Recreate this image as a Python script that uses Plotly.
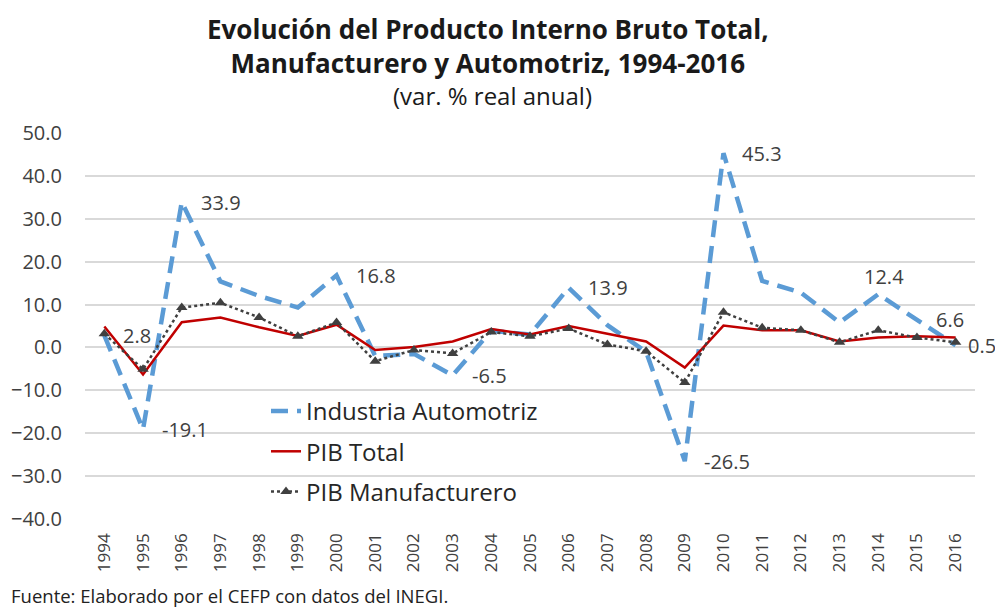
import plotly.graph_objects as go

years = [str(y) for y in range(1994, 2017)]
automotriz = [2.8, -19.1, 33.9, 15.4, 12.0, 9.3, 16.8, -2.0, -1.5, -6.5, 3.9, 3.0,
              13.9, 5.2, -1.0, -26.5, 45.3, 15.5, 12.8, 5.8, 12.4, 6.6, 0.5]
pib_total = [4.9, -6.3, 5.9, 7.0, 4.7, 2.7, 5.3, -0.6, 0.1, 1.4, 4.3, 3.0,
             5.0, 3.2, 1.4, -4.7, 5.1, 4.0, 4.0, 1.4, 2.3, 2.6, 2.3]
pib_manuf = [3.2, -5.1, 9.3, 10.4, 7.0, 2.6, 5.8, -3.2, -0.6, -1.4, 3.6, 2.6,
             4.4, 0.7, -0.9, -8.2, 8.2, 4.6, 4.0, 1.2, 4.0, 2.3, 1.2]
labeled_years = ["1994", "1995", "1996", "2000", "2003", "2006", "2009", "2010", "2014", "2015", "2016"]
y_ticks = [50, 40, 30, 20, 10, 0, -10, -20, -30, -40]

# page has an 8px body margin: figure pixel = screen pixel - 8
OFF = 8
W, H = 1003 - OFF, 614 - OFF
L, R, T, B = 85 - OFF, 28, 133 - OFF, 95


def px_x(p):
    return (p - OFF - L) / (W - L - R)


def px_y(p):
    return (H - B - (p - OFF)) / (H - T - B)


fig = go.Figure()
fig.add_trace(go.Scatter(x=years, y=automotriz, mode="lines", name="Industria Automotriz",
                         legendgroup="a",
                         line=dict(color="#5B9BD5", width=4.5, dash="17px,9px")))
fig.add_trace(go.Scatter(x=years, y=pib_total, mode="lines", name="PIB Total",
                         legendgroup="b",
                         line=dict(color="#C00000", width=2.5)))
fig.add_trace(go.Scatter(x=years, y=pib_manuf, mode="lines+markers", name="PIB Manufacturero",
                         legendgroup="c",
                         line=dict(color="#404040", width=2.5, dash="dot"),
                         marker=dict(symbol="triangle-up", size=10, color="#404040")))

annotations = []
for yr in labeled_years:
    i = years.index(yr)
    v = automotriz[i]
    if yr == "2014":
        annotations.append(dict(x=i, y=v, xref="x", yref="y", text=f"{v:.1f}", showarrow=False,
                                xanchor="center", yanchor="bottom", xshift=6, yshift=2,
                                font=dict(family="Open Sans", size=20, color="#404040")))
    else:
        xs = 10 if yr == "2016" else 17
        annotations.append(dict(x=i, y=v, xref="x", yref="y", text=f"{v:.1f}", showarrow=False,
                                xanchor="left", yanchor="middle", xshift=xs, yshift=0,
                                font=dict(family="Open Sans", size=20, color="#404040")))

annotations += [
    dict(text="<b>Evolución del Producto Interno Bruto Total,<br>Manufacturero y Automotriz, 1994-2016</b>",
         x=px_x(488), y=px_y(9),
         xref="paper", yref="paper", showarrow=False, xanchor="center", yanchor="top",
         align="center",
         font=dict(family="Open Sans", size=26, color="#1a1a1a")),
    dict(text="(var. % real anual)", x=px_x(492), y=px_y(95),
         xref="paper", yref="paper", showarrow=False, xanchor="center", yanchor="middle",
         font=dict(family="Open Sans", size=24, color="#1a1a1a")),
    dict(text="Fuente: Elaborado por el CEFP con datos del INEGI.", x=px_x(9), y=px_y(610),
         xref="paper", yref="paper", showarrow=False, xanchor="left", yanchor="bottom",
         font=dict(family="Open Sans", size=18.5, color="#222222")),
]

fig.update_layout(
    width=W, height=H,
    margin=dict(l=L, r=R, t=T, b=B, autoexpand=False),
    paper_bgcolor="white", plot_bgcolor="white",
    showlegend=True,
    legend=dict(x=px_x(266), y=px_y(389), xanchor="left", yanchor="top",
                bgcolor="rgba(0,0,0,0)", tracegroupgap=6,
                font=dict(family="Open Sans", size=24, color="#262626")),
    annotations=annotations,
    xaxis=dict(type="category", range=[-0.5, 22.5], tickangle=-90, showgrid=False,
               showline=False, ticks="", ticklabelstandoff=10, automargin=False,
               tickfont=dict(family="Open Sans", size=17, color="#404040")),
    yaxis=dict(range=[-40, 50], tickvals=y_ticks, tickformat=".1f", showgrid=True,
               gridcolor="#d9d9d9", gridwidth=1.5, zeroline=True, zerolinecolor="#d9d9d9",
               zerolinewidth=1.5, showline=False, ticks="", ticklabelstandoff=22,
               automargin=False,
               tickfont=dict(family="Open Sans", size=20, color="#404040")),
)

fig.write_html("out.html")
